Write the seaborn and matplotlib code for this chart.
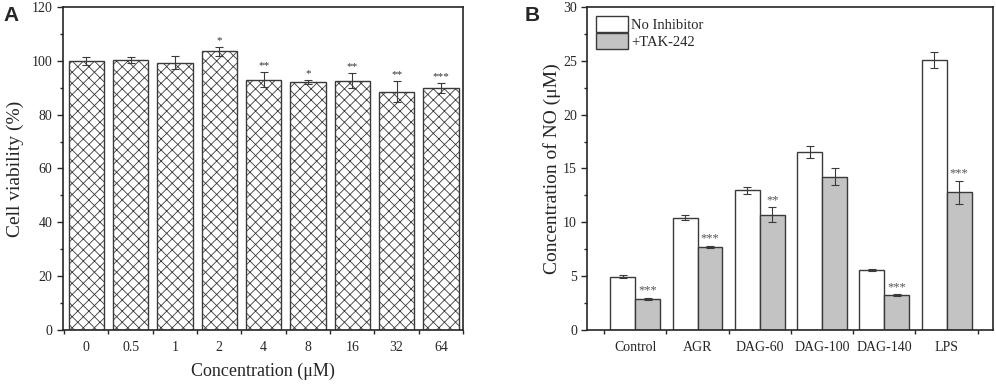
import matplotlib
matplotlib.use('Agg')
import matplotlib.pyplot as plt
import seaborn as sns
import pandas as pd
from matplotlib.patches import Patch
from matplotlib.ticker import MultipleLocator

# Panel A: cell viability
conc_labels = ['0', '0.5', '1', '2', '4', '8', '16', '32', '64']
viability = [100.0, 100.2, 99.3, 103.5, 93.0, 92.0, 92.6, 88.5, 89.8]
viability_err = [1.5, 1.1, 2.4, 1.6, 2.8, 0.7, 2.9, 3.9, 1.9]
viability_sig = ['', '', '', '*', '**', '*', '**', '**', '***']

# Panel B: NO concentration
groups = ['Control', 'AGR', 'DAG-60', 'DAG-100', 'DAG-140', 'LPS']
no_inhibitor = [4.95, 10.43, 12.97, 16.5, 5.6, 25.07]
no_inhibitor_err = [0.15, 0.26, 0.34, 0.56, 0.1, 0.73]
tak242 = [2.91, 7.74, 10.68, 14.24, 3.22, 12.78]
tak242_err = [0.1, 0.1, 0.7, 0.77, 0.1, 1.07]
tak242_sig = ['***', '***', '**', '', '***', '***']

sns.set_style('ticks')
plt.rcParams['font.family'] = ['Liberation Serif', 'DejaVu Serif']
plt.rcParams['hatch.linewidth'] = 0.6
plt.rcParams['hatch.color'] = '#555555'
plt.rcParams['axes.linewidth'] = 1.2

edge = '#3a3a3a'
fig = plt.figure(figsize=(9.96, 3.85), dpi=100)
ax1 = fig.add_axes([0.063, 0.143, 0.402, 0.839])
ax2 = fig.add_axes([0.5897, 0.143, 0.4076, 0.839])

# ---- A ----
sns.barplot(x=conc_labels, y=viability, color='white', edgecolor=edge,
            linewidth=1.0, width=0.8, errorbar=None, ax=ax1)
for p in ax1.patches:
    p.set_hatch('xxx')
centers = [p.get_x() + p.get_width() / 2 for p in ax1.patches]
ax1.errorbar(centers, viability, yerr=viability_err, fmt='none', ecolor=edge,
             elinewidth=0.8, capsize=3, capthick=0.8)
for x, v, e, s in zip(centers, viability, viability_err, viability_sig):
    if s:
        ax1.text(x, v + e + 0.8, s, ha='center', va='bottom', fontsize=8, color='#333333')
ax1.set_ylim(0, 120)
ax1.set_xlim(-0.53, 8.5)
ax1.yaxis.set_major_locator(MultipleLocator(20))
ax1.yaxis.set_minor_locator(MultipleLocator(10))
ax1.xaxis.set_minor_locator(MultipleLocator(1, offset=0.5))
ax1.tick_params(axis='x', which='major', length=0, pad=8)
ax1.tick_params(axis='x', which='minor', length=3, width=1)
ax1.tick_params(axis='y', which='major', length=4, width=1)
ax1.tick_params(axis='y', which='minor', length=2.5, width=1)
ax1.tick_params(labelsize=10)
ax1.set_ylabel('Cell viability (%)', fontsize=14)
ax1.yaxis.set_label_coords(-0.097, 0.5)
ax1.set_xlabel('Concentration (μM)', fontsize=13, labelpad=6)
for sp in ax1.spines.values():
    sp.set_visible(True)

# ---- B ----
df = pd.DataFrame({
    'group': groups * 2,
    'value': no_inhibitor + tak242,
    'condition': ['No Inhibitor'] * len(groups) + ['+TAK-242'] * len(groups),
})
sns.barplot(data=df, x='group', y='value', hue='condition',
            palette=['white', '#c3c3c3'], edgecolor=edge, linewidth=1.0,
            width=0.8, errorbar=None, legend=False, ax=ax2)
bars = ax2.patches
n = len(groups)
white_x = [p.get_x() + p.get_width() / 2 for p in bars[:n]]
gray_x = [p.get_x() + p.get_width() / 2 for p in bars[n:2 * n]]
ax2.errorbar(white_x, no_inhibitor, yerr=no_inhibitor_err, fmt='none', ecolor=edge,
             elinewidth=0.8, capsize=3, capthick=0.8)
ax2.errorbar(gray_x, tak242, yerr=tak242_err, fmt='none', ecolor=edge,
             elinewidth=0.8, capsize=3, capthick=0.8)
for x, v, e, s in zip(gray_x, tak242, tak242_err, tak242_sig):
    if s:
        ax2.text(x, v + e + 0.1, s, ha='center', va='bottom', fontsize=9, color='#555555')
ax2.set_ylim(0, 30)
ax2.set_xlim(-0.77, 5.75)
ax2.yaxis.set_major_locator(MultipleLocator(5))
ax2.yaxis.set_minor_locator(MultipleLocator(2.5))
ax2.xaxis.set_minor_locator(MultipleLocator(1, offset=0.5))
ax2.tick_params(axis='x', which='major', length=0, pad=8)
ax2.tick_params(axis='x', which='minor', length=3, width=1)
ax2.tick_params(axis='y', which='major', length=4, width=1)
ax2.tick_params(axis='y', which='minor', length=2.5, width=1)
ax2.tick_params(labelsize=10)
ax2.set_ylabel('Concentration of NO (μM)', fontsize=14)
ax2.yaxis.set_label_coords(-0.065, 0.5)
ax2.set_xlabel('')
for sp in ax2.spines.values():
    sp.set_visible(True)
handles = [Patch(facecolor='white', edgecolor=edge, linewidth=1.0, label='No Inhibitor'),
           Patch(facecolor='#c3c3c3', edgecolor=edge, linewidth=1.0, label='+TAK-242')]
ax2.legend(handles=handles, loc='upper left', frameon=False, fontsize=10.5,
           handlelength=2.2, handleheight=1.3, handletextpad=0.2,
           labelspacing=0.1, borderaxespad=0.2)

fig.text(0.004, 0.985, 'A', fontsize=15, fontweight='bold', va='top',
         family=['Liberation Sans', 'DejaVu Sans'])
fig.text(0.527, 0.985, 'B', fontsize=15, fontweight='bold', va='top',
         family=['Liberation Sans', 'DejaVu Sans'])

fig.savefig('out.png', dpi=100)
